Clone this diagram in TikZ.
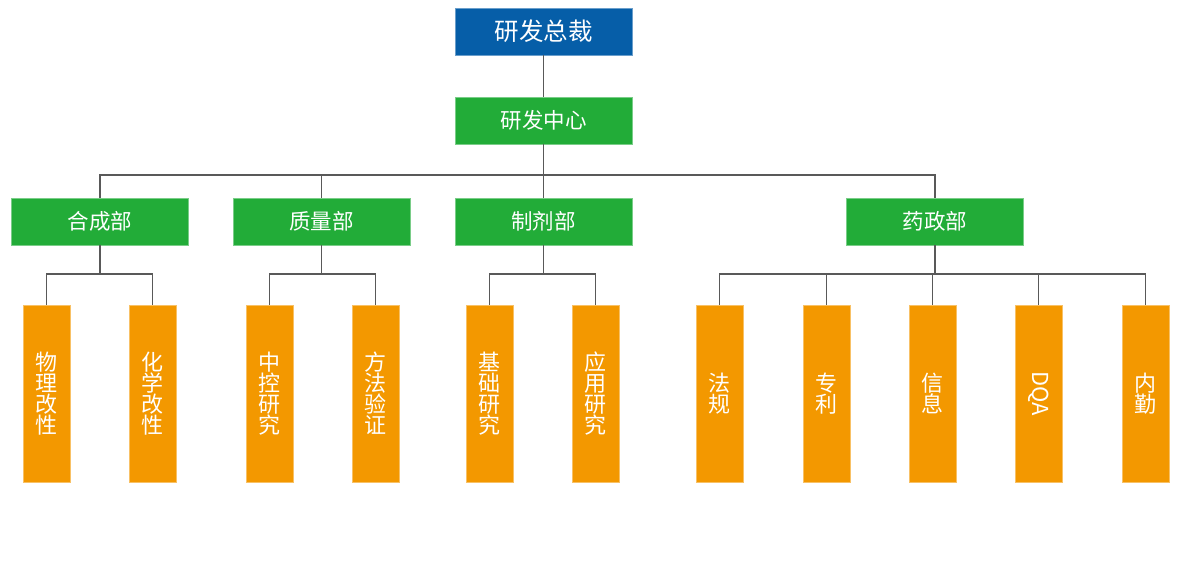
\documentclass[tikz,border=0pt]{standalone}
\usepackage{fontspec}
\usepackage{graphicx}
\newfontfamily\cjk{Noto Sans CJK SC}
\definecolor{headblue}{HTML}{065EA8}
\definecolor{deptgreen}{HTML}{22AC38}
\definecolor{teamorange}{HTML}{F39800}
\definecolor{linegray}{HTML}{595959}
\tikzset{
    headbox/.style={fill=headblue, draw=headblue!60!white, minimum width=177pt, minimum height=47pt, font=\cjk\fontsize{24.5}{24.5}\selectfont},
    deptbox/.style={fill=deptgreen, draw=deptgreen!60!white, minimum width=177pt, minimum height=47pt, font=\cjk\fontsize{21.5}{21.5}\selectfont},
    teambox/.style={fill=teamorange, draw=teamorange!60!white, minimum width=47pt, minimum height=177pt, align=center, font=\cjk\fontsize{22}{21}\selectfont},
    link/.style={draw=linegray, line width=1.2pt}
}
\begin{document}
\begin{tikzpicture}[x=1pt, y=-1pt, every node/.style={rectangle, inner sep=0pt, text=white, line width=0.6pt}]
    \useasboundingbox (0,0) rectangle (1180,583);
    \node[headbox] (r0) at (543.5,31.5) {研发总裁};
    \node[deptbox] (r1) at (543.5,120.5) {研发中心};
    \node[deptbox] (d1) at (100,221.5) {合成部};
    \node[deptbox] (d2) at (321.5,221.5) {质量部};
    \node[deptbox] (d3) at (543.5,221.5) {制剂部};
    \node[deptbox] (d4) at (935,221.5) {药政部};
    \node[teambox] (t1) at (46.5,393.5) {物\\理\\改\\性};
    \node[teambox] (t2) at (152.5,393.5) {化\\学\\改\\性};
    \node[teambox] (t3) at (269.5,393.5) {中\\控\\研\\究};
    \node[teambox] (t4) at (375.5,393.5) {方\\法\\验\\证};
    \node[teambox] (t5) at (489.5,393.5) {基\\础\\研\\究};
    \node[teambox] (t6) at (595.5,393.5) {应\\用\\研\\究};
    \node[teambox] (t7) at (719.5,393.5) {法\\规};
    \node[teambox] (t8) at (826.5,393.5) {专\\利};
    \node[teambox] (t9) at (932.5,393.5) {信\\息};
    \node[teambox] (t10) at (1038.5,393.5) {\rotatebox{-90}{DQA}};
    \node[teambox] (t11) at (1145.5,393.5) {内\\勤};
    \draw[link] (r0) -- (r1);
    \foreach \from/\to in {r1/d1, r1/d2, r1/d3, r1/d4}
        \draw[link] (\from.south) -- (\from.south |- 0,175) -| (\to.north);
    \foreach \from/\to in {d1/t1, d1/t2, d2/t3, d2/t4, d3/t5, d3/t6, d4/t7, d4/t8, d4/t9, d4/t10, d4/t11}
        \draw[link] (\from.south) -- (\from.south |- 0,274) -| (\to.north);
\end{tikzpicture}
\end{document}
